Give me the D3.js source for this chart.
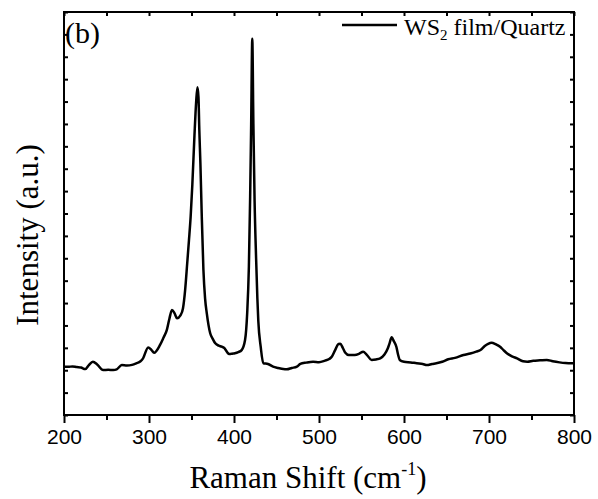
<!DOCTYPE html>
<html>
<head>
<meta charset="utf-8">
<script src="https://cdn.jsdelivr.net/npm/d3@7"></script>
<style>
    body { margin: 0; background: #fff; }
    svg { display: block; }
</style>
</head>
<body>
<svg></svg>
<script>
// Raman spectrum
const ramanShift = [
    200, 205, 210, 215, 220, 225, 229, 234, 239, 246, 252, 258, 262, 268, 274, 280,
    285, 290, 293, 299, 303, 306, 313, 317, 321, 324, 327, 330, 333, 337, 340, 342.5,
    345, 347, 349, 351, 353.5, 355.5, 357, 358.2, 359.2, 360.5, 362, 364, 366, 368,
    372, 375, 378, 382, 385.5, 389, 392, 394.5, 398, 401, 405, 409, 413, 415.5,
    417.5, 419, 420.2, 421.5, 422.8, 424.2, 426, 427.5, 428.6, 431.4, 434.5, 440,
    446, 452, 458, 462, 468, 474, 478, 485, 493, 500, 507, 512, 515, 519, 523, 525,
    528, 531, 535, 542, 547, 552, 556, 562, 567, 572, 577, 581, 583, 585.5, 588,
    591, 593, 595, 600, 608, 615, 622, 627, 633, 638, 645, 652, 660, 670, 678, 685,
    690, 695, 699, 703, 708, 713, 717, 721, 727, 733, 740, 745, 752, 760, 768, 775,
    783, 790, 797, 800
];
const intensity = [
    216, 215, 217, 214, 212, 205, 222, 238, 226, 201, 202, 201, 204, 223, 221, 224,
    231, 240, 253, 302, 290, 278, 313, 345, 380, 430, 469, 455, 432, 445, 477, 558,
    680, 780, 886, 1030, 1250, 1400, 1464, 1420, 1273, 1120, 900, 650, 520, 454,
    365, 340, 320, 310, 305, 298, 280, 272, 274, 276, 281, 290, 335, 454,
    662, 975, 1300, 1680, 1300, 960, 700, 520, 420, 305, 231, 228,
    216, 210, 205, 204, 210, 216, 228, 234, 238, 236, 243, 250, 260, 290, 317, 318,
    300, 278, 268, 268, 273, 283, 270, 246, 248, 253, 270, 298, 320, 347, 330,
    305, 270, 246, 238, 235, 231, 228, 223, 228, 231, 238, 249, 255, 268, 275, 283,
    290, 308, 318, 323, 316, 305, 290, 276, 262, 253, 240, 238, 242, 244, 246, 240,
    235, 232, 231, 231
];
const xTicks = [200, 300, 400, 500, 600, 700, 800];
const xMinorTicks = [250, 350, 450, 550, 650, 750];
const yTicks = d3.range(0, 1801, 100);
const seriesName = "WS";

const width = 598,
    height = 499;
const margin = { top: 12, right: 24, bottom: 84, left: 64 };

const svg = d3.select("svg").attr("width", width).attr("height", height);

const xScale = d3
    .scaleLinear()
    .domain([200, 800])
    .range([margin.left, width - margin.right]);

const yScale = d3
    .scaleLinear()
    .domain([0, 1800])
    .range([height - margin.bottom, margin.top]);

const data = ramanShift.map((x, i) => [x, intensity[i]]);

// axes
const styleAxis = (g) => {
    g.select(".domain").remove();
    g.selectAll(".tick line").attr("stroke", "#000").attr("stroke-width", 2);
};

svg.append("g")
    .attr("transform", "translate(0," + yScale.range()[0] + ")")
    .call(d3.axisBottom(xScale).tickValues(xTicks).tickSize(8).tickPadding(6))
    .call(styleAxis)
    .call((g) =>
        g.selectAll("text")
            .attr("fill", "#000")
            .style("font-family", "'Liberation Sans', Arial, sans-serif")
            .style("font-size", "21px")
    );

svg.append("g")
    .attr("transform", "translate(0," + yScale.range()[0] + ")")
    .call(d3.axisBottom(xScale).tickValues(xMinorTicks).tickSize(5).tickFormat(""))
    .call(styleAxis);

svg.append("g")
    .attr("transform", "translate(0," + margin.top + ")")
    .call(d3.axisBottom(xScale).tickValues(xTicks.concat(xMinorTicks)).tickSize(4).tickFormat(""))
    .call(styleAxis);

svg.append("g")
    .attr("transform", "translate(" + margin.left + ",0)")
    .call(d3.axisRight(yScale).tickValues(yTicks).tickSize(4).tickFormat(""))
    .call(styleAxis);

svg.append("g")
    .attr("transform", "translate(" + (width - margin.right) + ",0)")
    .call(d3.axisLeft(yScale).tickValues(yTicks).tickSize(4).tickFormat(""))
    .call(styleAxis);

// frame
svg.append("rect")
    .attr("x", margin.left)
    .attr("y", margin.top)
    .attr("width", width - margin.left - margin.right)
    .attr("height", height - margin.top - margin.bottom)
    .attr("fill", "none")
    .attr("stroke", "#000")
    .attr("stroke-width", 2);

// spectrum
const line = d3
    .line()
    .x((d) => xScale(d[0]))
    .y((d) => yScale(d[1]))
    .curve(d3.curveMonotoneX);

svg.append("path")
    .datum(data)
    .attr("fill", "none")
    .attr("stroke", "#000")
    .attr("stroke-width", 2.5)
    .attr("stroke-linejoin", "round")
    .attr("d", line);

// labels
const serif = "'Liberation Serif', 'Times New Roman', serif";

svg.append("text")
    .attr("x", margin.left + 1)
    .attr("y", 43)
    .style("font-family", serif)
    .style("font-size", "30px")
    .text("(b)");

svg.append("line")
    .attr("x1", 342)
    .attr("x2", 397)
    .attr("y1", 25)
    .attr("y2", 25)
    .attr("stroke", "#000")
    .attr("stroke-width", 2.5);

const legendText = svg.append("text")
    .attr("x", 404)
    .attr("y", 35)
    .style("font-family", serif)
    .style("font-size", "24px");
legendText.append("tspan").text(seriesName);
legendText.append("tspan").attr("font-size", "15px").attr("dy", 5).text("2");
legendText.append("tspan").attr("dy", -5).text(" film/Quartz");

const xTitle = svg.append("text")
    .attr("x", 308)
    .attr("y", 488)
    .attr("text-anchor", "middle")
    .style("font-family", serif)
    .style("font-size", "31px");
xTitle.append("tspan").text("Raman Shift (cm");
xTitle.append("tspan").attr("font-size", "18px").attr("dy", -13).text("-1");
xTitle.append("tspan").attr("dy", 13).text(")");

svg.append("text")
    .attr("transform", "translate(38,235) rotate(-90)")
    .attr("text-anchor", "middle")
    .style("font-family", serif)
    .style("font-size", "31px")
    .text("Intensity (a.u.)");
</script>
</body>
</html>
